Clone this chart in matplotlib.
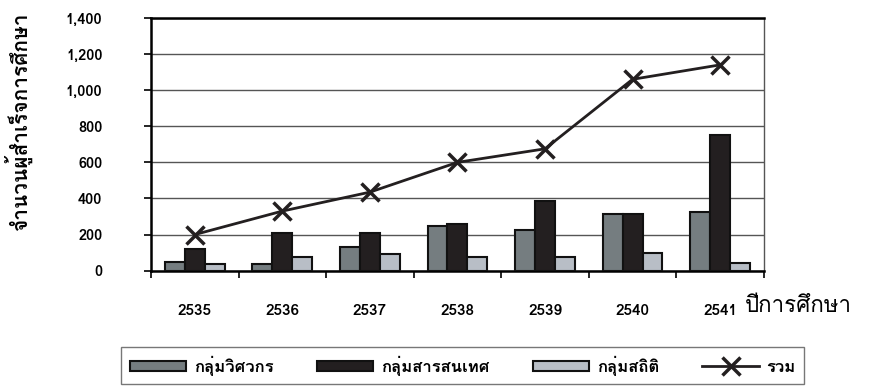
import numpy as np
import matplotlib
matplotlib.use('Agg')
import matplotlib.pyplot as plt
from matplotlib import font_manager
from matplotlib.ft2font import FT2Font

# ข้อมูลผู้สำเร็จการศึกษา แยกตามกลุ่ม
years = ['2535', '2536', '2537', '2538', '2539', '2540', '2541']
engineer = [50, 35, 130, 250, 225, 315, 325]
infosci = [120, 210, 210, 260, 385, 315, 750]
stat = [35, 75, 90, 75, 75, 100, 45]
total = [200, 330, 435, 600, 675, 1060, 1140]
labels = ['กลุ่มวิศวกร', 'กลุ่มสารสนเทศ', 'กลุ่มสถิติ', 'รวม']

# หาฟอนต์ที่มีอักษรไทย
thai_fonts = []
for f in font_manager.fontManager.ttflist:
    try:
        if FT2Font(f.fname).get_char_index(0x0E01) and f.name not in thai_fonts:
            thai_fonts.append(f.name)
    except Exception:
        pass
plt.rcParams['font.family'] = thai_fonts + ['DejaVu Sans']
plt.rcParams['font.weight'] = 'bold'

fig = plt.figure(figsize=(8.73, 3.9), dpi=100)
ax = fig.add_axes([0.173, 0.306, 0.702, 0.648])

x = np.arange(len(years))
w = 0.228
cols = ['#757d80', '#231f20', '#b8bec6']
handles = []
for i, (vals, c) in enumerate(zip([engineer, infosci, stat], cols)):
    b = ax.bar(x + (i - 1) * w, vals, w, color=c, edgecolor='#111111',
               linewidth=1.5, label=labels[i], zorder=3)
    handles.append(b)
ln, = ax.plot(x, total, color='#231f20', lw=2, marker='x', ms=13, mew=2.5,
              label=labels[3], zorder=4)
handles.append(ln)

ax.set_xlim(-0.5, len(years) - 0.5)
ax.set_ylim(0, 1400)
ax.set_yticks(np.arange(0, 1401, 200))
ax.set_yticklabels(['{:,}'.format(v) for v in range(0, 1401, 200)])
ax.yaxis.grid(True, color='#555555', lw=1, zorder=0)
ax.set_xticks(np.arange(-0.5, len(years), 1))
ax.set_xticklabels([])
ax.set_xticks(x, minor=True)
ax.set_xticklabels(years, minor=True)
ax.tick_params(axis='x', which='minor', length=0, pad=24, labelsize=11)
ax.tick_params(axis='x', which='major', length=5, width=1.2, direction='out')
ax.tick_params(axis='y', length=5, width=1.2, pad=30, labelsize=10.5)

for s in ['left', 'bottom', 'top']:
    ax.spines[s].set_linewidth(1.8)
    ax.spines[s].set_color('black')
ax.spines['right'].set_color('#555555')
ax.spines['right'].set_linewidth(1)

fig.text(0.02, 0.69, 'จำนวนผู้สำเร็จการศึกษา', rotation=90, ha='center',
         va='center', fontsize=15, fontweight='bold')
fig.text(0.853, 0.215, 'ปีการศึกษา', ha='left', va='center', fontsize=16,
         fontweight='normal')

leg = fig.legend(handles, labels, loc='center', bbox_to_anchor=(0.530, 0.062),
                 ncol=4, frameon=True, fancybox=False, edgecolor='#555555',
                 handlelength=3.4, handleheight=0.6, columnspacing=2.6,
                 fontsize=12, borderpad=0.5, handletextpad=0.45,
                 borderaxespad=0)
leg.get_frame().set_linewidth(1)

fig.savefig('out.png', dpi=100)
